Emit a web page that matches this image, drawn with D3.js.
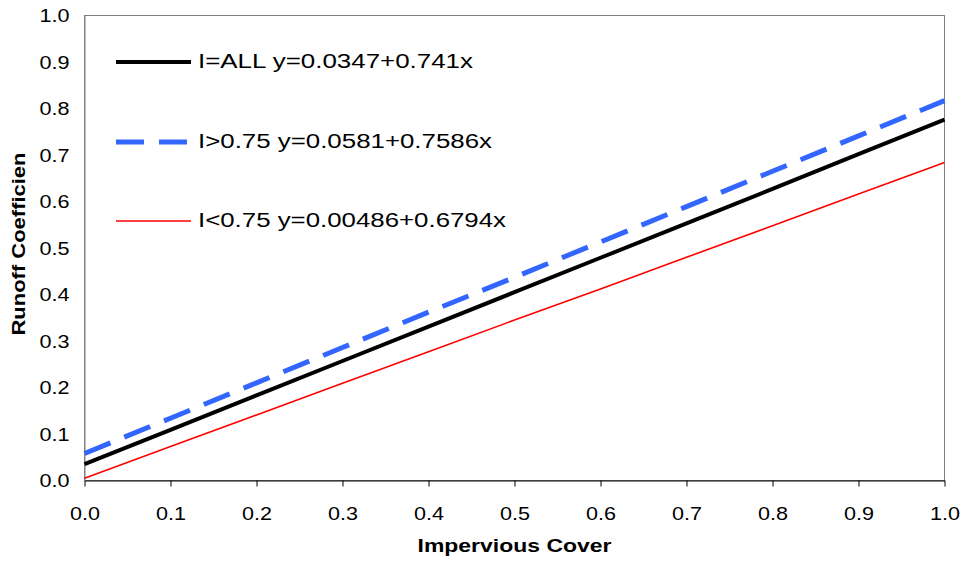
<!DOCTYPE html>
<html><head><meta charset="utf-8">
<script src="https://cdn.jsdelivr.net/npm/d3@7"></script>
<style>body{margin:0;background:#fff;} svg{display:block;font-family:"Liberation Sans",Arial,sans-serif;}</style>
</head><body>
<svg id="c" width="968" height="565"></svg>
<script>
const xValues = [0.0,0.1,0.2,0.3,0.4,0.5,0.6,0.7,0.8,0.9,1.0];
const allValues = [0.035,0.109,0.183,0.257,0.331,0.405,0.479,0.553,0.627,0.702,0.776];
const highValues = [0.058,0.134,0.210,0.286,0.362,0.437,0.513,0.589,0.665,0.741,0.817];
const lowValues = [0.005,0.073,0.141,0.209,0.277,0.345,0.412,0.480,0.548,0.616,0.684];
const tickLabels = ["0.0","0.1","0.2","0.3","0.4","0.5","0.6","0.7","0.8","0.9","1.0"];
const seriesNames = ["I=ALL y=0.0347+0.741x","I>0.75 y=0.0581+0.7586x","I<0.75 y=0.00486+0.6794x"];

const svg = d3.select("#c");
const L=84.5, R=944.5, T=15.5, B=480.5;
const x = d3.scaleLinear().domain([0,1]).range([L,R]);
const y = d3.scaleLinear().domain([0,1]).range([B,T]);

// plot border
svg.append("rect").attr("x",L).attr("y",T).attr("width",R-L).attr("height",B-T)
  .attr("fill","none").attr("stroke","#808080").attr("stroke-width",1);

// x axis
const xa = svg.append("g").attr("transform",`translate(0,${B})`)
  .call(d3.axisBottom(x).tickValues(xValues).tickFormat((d,i)=>tickLabels[i]).tickSize(6).tickSizeOuter(0).tickPadding(20));
xa.select(".domain").attr("stroke","#000");
xa.selectAll(".tick line").attr("stroke","#000");
xa.selectAll("text").attr("font-size",19).attr("fill","#000").attr("font-family","Liberation Sans, Arial, sans-serif")
  .attr("textLength",30).attr("lengthAdjust","spacingAndGlyphs");

// y axis
const ya = svg.append("g").attr("transform",`translate(${L},0)`)
  .call(d3.axisLeft(y).tickValues(xValues).tickFormat((d,i)=>tickLabels[i]).tickSize(0).tickPadding(15));
ya.select(".domain").attr("stroke","#808080");
ya.selectAll("text").attr("font-size",19).attr("fill","#000").attr("font-family","Liberation Sans, Arial, sans-serif")
  .attr("textLength",30).attr("lengthAdjust","spacingAndGlyphs");

// axis titles
svg.append("text").attr("x",(L+R)/2).attr("y",552).attr("text-anchor","middle")
  .attr("font-size",18).attr("font-weight","bold")
  .attr("textLength",194).attr("lengthAdjust","spacingAndGlyphs").text("Impervious Cover");
svg.append("text").attr("transform",`translate(25,${(T+B)/2 - 4}) rotate(-90)`).attr("text-anchor","middle")
  .attr("font-size",18).attr("font-weight","bold")
  .attr("textLength",183).attr("lengthAdjust","spacingAndGlyphs").text("Runoff Coefficien");

const series = [
  {vals: allValues, color:"#000000", w:4, dash:null},
  {vals: highValues, color:"#3366ff", w:5, dash:"28,15"},
  {vals: lowValues, color:"#ff0000", w:1.6, dash:null}
];
const line = d3.line().x((d,i)=>x(xValues[i])).y(d=>y(d));
series.forEach(s=>{
  svg.append("path").datum(s.vals).attr("d",line).attr("fill","none")
    .attr("stroke",s.color).attr("stroke-width",s.w)
    .attr("stroke-dasharray",s.dash);
});

// legend
const legY=[62,142,221];
const legLen=[275,294,308];
series.forEach((s,i)=>{
  svg.append("line").attr("x1",116).attr("x2",191).attr("y1",legY[i]).attr("y2",legY[i])
    .attr("stroke",s.color).attr("stroke-width",s.w).attr("stroke-dasharray",s.dash);
  svg.append("text").attr("x",198).attr("y",legY[i]+5.5).attr("font-size",19.5).attr("fill","#000")
    .attr("textLength",legLen[i]).attr("lengthAdjust","spacingAndGlyphs").text(seriesNames[i]);
});
</script>
</body></html>
